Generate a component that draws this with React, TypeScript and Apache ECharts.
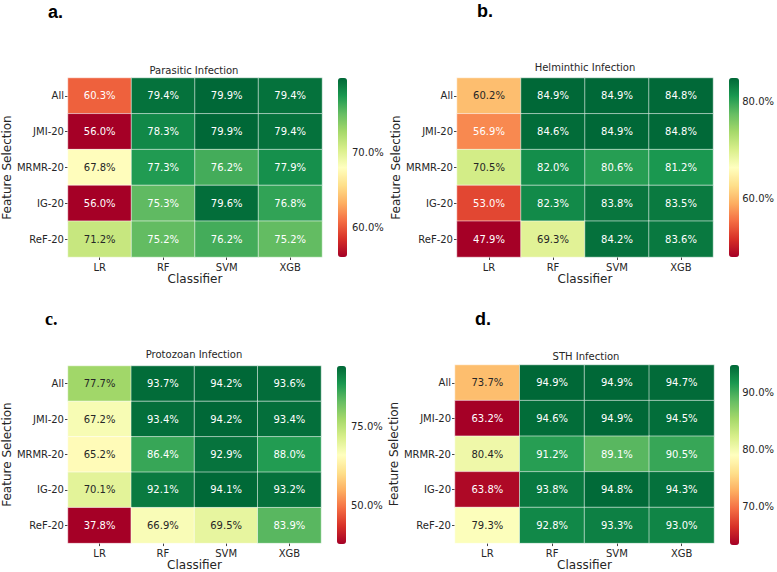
import React, { useEffect, useRef } from "react";
import * as echarts from "echarts";

const classifiers = ["LR", "RF", "SVM", "XGB"];
const features = ["All", "JMI-20", "MRMR-20", "IG-20", "ReF-20"];

const titles = ["Parasitic Infection", "Helminthic Infection", "Protozoan Infection", "STH Infection"];
const letters = ["a.", "b.", "c.", "d."];

// rows = features (top to bottom), cols = classifiers
const parasitic = [
  [60.3, 79.4, 79.9, 79.4],
  [56.0, 78.3, 79.9, 79.4],
  [67.8, 77.3, 76.2, 77.9],
  [56.0, 75.3, 79.6, 76.8],
  [71.2, 75.2, 76.2, 75.2],
];
const helminthic = [
  [60.2, 84.9, 84.9, 84.8],
  [56.9, 84.6, 84.9, 84.8],
  [70.5, 82.0, 80.6, 81.2],
  [53.0, 82.3, 83.8, 83.5],
  [47.9, 69.3, 84.2, 83.6],
];
const protozoan = [
  [77.7, 93.7, 94.2, 93.6],
  [67.2, 93.4, 94.2, 93.4],
  [65.2, 86.4, 92.9, 88.0],
  [70.1, 92.1, 94.1, 93.2],
  [37.8, 66.9, 69.5, 83.9],
];
const sth = [
  [73.7, 94.9, 94.9, 94.7],
  [63.2, 94.6, 94.9, 94.5],
  [80.4, 91.2, 89.1, 90.5],
  [63.8, 93.8, 94.8, 94.3],
  [79.3, 92.8, 93.3, 93.0],
];
const matrices = [parasitic, helminthic, protozoan, sth];

const colorbarTicks = [
  [60, 70],
  [60, 80],
  [50, 75],
  [70, 80, 90],
];

const RdYlGn = [
  "#a50026", "#d73027", "#f46d43", "#fdae61", "#fee08b", "#ffffbf",
  "#d9ef8b", "#a6d96a", "#66bd63", "#1a9850", "#006837",
];

// layout
const grids = [
  { left: 67, top: 78, width: 255, height: 179 },
  { left: 457, top: 78, width: 256, height: 179 },
  { left: 67, top: 366, width: 254, height: 178 },
  { left: 455, top: 365, width: 259, height: 180 },
];
const bars = [
  { left: 338, top: 78, width: 9, height: 179 },
  { left: 729, top: 78, width: 10, height: 179 },
  { left: 337, top: 366, width: 9, height: 178 },
  { left: 730, top: 365, width: 9, height: 180 },
];
const titlePos = [
  { x: 194, y: 70 },
  { x: 585, y: 67 },
  { x: 194, y: 354 },
  { x: 586, y: 356 },
];
const letterPos = [
  { x: 48, y: 12, serif: false },
  { x: 477, y: 11, serif: false },
  { x: 45, y: 319, serif: true },
  { x: 475, y: 319, serif: false },
];

function hexToRgb(h: string) {
  return [parseInt(h.slice(1, 3), 16), parseInt(h.slice(3, 5), 16), parseInt(h.slice(5, 7), 16)];
}
function cmap(t: number) {
  const n = RdYlGn.length - 1;
  const p = Math.max(0, Math.min(1, t)) * n;
  const i = Math.min(n - 1, Math.floor(p));
  const f = p - i;
  const a = hexToRgb(RdYlGn[i]);
  const b = hexToRgb(RdYlGn[i + 1]);
  return a.map((c, k) => c + (b[k] - c) * f);
}
function lum(rgb: number[]) {
  const l = rgb.map((c) => {
    const s = c / 255;
    return s <= 0.03928 ? s / 12.92 : Math.pow((s + 0.055) / 1.055, 2.4);
  });
  return 0.2126 * l[0] + 0.7152 * l[1] + 0.0722 * l[2];
}

const FONT = "DejaVu Sans";
const TXT = "#262626";

export default function App() {
  const ref = useRef<HTMLDivElement>(null);
  useEffect(() => {
    if (!ref.current) return;
    const chart = echarts.init(ref.current, undefined, { renderer: "svg" });

    const gridOpts: any[] = [];
    const xAxes: any[] = [];
    const yAxes: any[] = [];
    const series: any[] = [];
    const visualMaps: any[] = [];
    const graphics: any[] = [];

    matrices.forEach((m, p) => {
      const flat = m.flat();
      const mn = Math.min(...flat);
      const mx = Math.max(...flat);
      gridOpts.push({ ...grids[p] });
      gridOpts.push({ ...bars[p] });
      const gi = p * 2;
      xAxes.push({
        type: "category",
        gridIndex: gi,
        data: classifiers,
        name: "Classifier",
        nameLocation: "middle",
        nameGap: 14,
        nameTextStyle: { fontFamily: FONT, fontSize: 12, color: TXT, verticalAlign: "top" },
        axisLine: { show: false },
        axisTick: { show: true, length: 3, alignWithLabel: true, lineStyle: { color: "#444" } },
        axisLabel: { fontFamily: FONT, fontSize: 10, color: TXT, margin: 5 },
        splitLine: { show: false },
      });
      yAxes.push({
        type: "category",
        gridIndex: gi,
        data: features,
        inverse: true,
        name: "Feature Selection",
        nameLocation: "middle",
        nameGap: 48,
        nameTextStyle: { fontFamily: FONT, fontSize: 12, color: TXT },
        axisLine: { show: false },
        axisTick: { show: true, length: 3, alignWithLabel: true, lineStyle: { color: "#444" } },
        axisLabel: { fontFamily: FONT, fontSize: 10, color: TXT, margin: 4 },
        splitLine: { show: false },
      });
      // colorbar axis
      xAxes.push({ type: "value", gridIndex: gi + 1, show: false, min: 0, max: 1 });
      yAxes.push({
        type: "value",
        gridIndex: gi + 1,
        min: mn,
        max: mx,
        position: "right",
        axisLine: { show: false },
        splitLine: { show: false },
        axisTick: { show: true, length: 3, customValues: colorbarTicks[p], lineStyle: { color: "#444" } },
        axisLabel: {
          fontFamily: FONT,
          fontSize: 10,
          color: TXT,
          margin: 5,
          customValues: colorbarTicks[p],
          formatter: (v: number) => v.toFixed(1) + "%",
        },
      });

      const data: any[] = [];
      m.forEach((row, yi) => {
        row.forEach((v, xi) => {
          const l = lum(cmap((v - mn) / (mx - mn)));
          data.push({
            value: [xi, yi, v],
            label: { color: l > 0.408 ? TXT : "#ffffff" },
          });
        });
      });
      series.push({
        type: "heatmap",
        xAxisIndex: p * 2,
        yAxisIndex: p * 2,
        data,
        label: {
          show: true,
          fontFamily: FONT,
          fontSize: 10,
          formatter: (q: any) => q.value[2].toFixed(1) + "%",
        },
        itemStyle: { borderColor: "rgba(255,255,255,0.55)", borderWidth: 1 },
        emphasis: { disabled: true },
      });
      visualMaps.push({
        type: "continuous",
        seriesIndex: p,
        min: mn,
        max: mx,
        dimension: 2,
        calculable: false,
        show: true,
        left: bars[p].left,
        top: bars[p].top,
        itemWidth: bars[p].width,
        itemHeight: bars[p].height,
        padding: 0,
        text: null,
        inRange: { color: RdYlGn },
      });
      graphics.push({
        type: "text",
        x: titlePos[p].x,
        y: titlePos[p].y,
        style: {
          text: titles[p],
          fontFamily: FONT,
          fontSize: 10,
          fill: TXT,
          textAlign: "center",
          textVerticalAlign: "middle",
        },
      });
      graphics.push({
        type: "text",
        x: letterPos[p].x,
        y: letterPos[p].y,
        style: {
          text: letters[p],
          fontFamily: letterPos[p].serif ? "Liberation Serif" : "Liberation Sans",
          fontWeight: "bold",
          fontSize: 18,
          fill: "#000",
          textAlign: "left",
          textVerticalAlign: "middle",
        },
      });
    });

    chart.setOption({
      animation: false,
      backgroundColor: "#ffffff",
      grid: gridOpts,
      xAxis: xAxes,
      yAxis: yAxes,
      series,
      visualMap: visualMaps,
      graphic: graphics,
    });
    return () => chart.dispose();
  }, []);
  return (
    <div
      ref={ref}
      style={{ position: "fixed", left: 0, top: 0, width: 777, height: 572, background: "#fff" }}
    />
  );
}
